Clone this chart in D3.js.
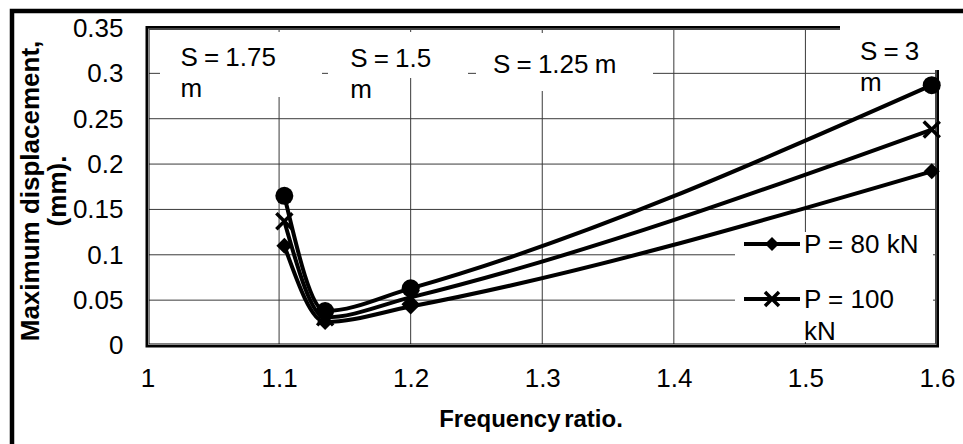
<!DOCTYPE html>
<html>
<head>
<meta charset="utf-8">
<script src="https://cdn.jsdelivr.net/npm/d3@7"></script>
<style>
  body { margin: 0; background: #fff; }
  text { font-family: "Liberation Sans", Arial, sans-serif; fill: #000; }
</style>
</head>
<body>
<div id="chart"></div>
<script>
// data
const freqRatio = [1.104, 1.135, 1.2, 1.596]
const p120 = [0.165, 0.038, 0.063, 0.287]   // circles (no legend entry visible)
const p100 = [0.137, 0.031, 0.053, 0.238]   // crosses
const p80 = [0.110, 0.026, 0.043, 0.192]    // diamonds
const xTicks = [1, 1.1, 1.2, 1.3, 1.4, 1.5, 1.6]
const yTicks = [0, 0.05, 0.1, 0.15, 0.2, 0.25, 0.3, 0.35]
const spacingLabels = [
  {lines: ["S = 1.75", "m"], x: 1.025, y: 0.308},
  {lines: ["S = 1.5", "m"], x: 1.154, y: 0.307},
  {lines: ["S = 1.25 m"], x: 1.2625, y: 0.300},
  {lines: ["S = 3", "m"], x: 1.5414, y: 0.315}
]
const legendItems = [
  {label: ["P = 80 kN"], symbol: "diamond"},
  {label: ["P = 100", "kN"], symbol: "cross"}
]

const width = 963
const height = 444
const fontSize = "26px"

const svg = d3.select("#chart")
  .append("svg")
  .attr("width", width)
  .attr("height", height)

// scales
const xScale = d3.scaleLinear()
  .domain([1, 1.6])
  .range([147.5, 937])

const yScale = d3.scaleLinear()
  .domain([0, 0.35])
  .range([345.5, 28])

// outer frame (only top and left show)
svg.append("path")
  .attr("d", `M12,${height} V11 H${width}`)
  .attr("fill", "none")
  .attr("stroke", "#000")
  .attr("stroke-width", 4.5)

// gridlines
svg.append("g")
  .selectAll("line")
  .data(yTicks.slice(1, -1))
  .join("line")
  .attr("x1", xScale(1))
  .attr("x2", xScale(1.6))
  .attr("y1", d => yScale(d))
  .attr("y2", d => yScale(d))
  .attr("stroke", "#3a3a3a")
  .attr("stroke-width", 1)

svg.append("g")
  .selectAll("line")
  .data(xTicks.slice(1, -1))
  .join("line")
  .attr("x1", d => xScale(d))
  .attr("x2", d => xScale(d))
  .attr("y1", yScale(0.35))
  .attr("y2", yScale(0))
  .attr("stroke", "#3a3a3a")
  .attr("stroke-width", 1)

// plot frame, double line look
svg.append("rect")
  .attr("x", xScale(1))
  .attr("y", yScale(0.35))
  .attr("width", xScale(1.6) - xScale(1))
  .attr("height", yScale(0) - yScale(0.35))
  .attr("fill", "none")
  .attr("stroke", "#000")
  .attr("stroke-width", 4)
svg.append("rect")
  .attr("x", xScale(1) + 1)
  .attr("y", yScale(0.35) + 1)
  .attr("width", xScale(1.6) - xScale(1) - 2)
  .attr("height", yScale(0) - yScale(0.35) - 2)
  .attr("fill", "none")
  .attr("stroke", "#888")
  .attr("stroke-width", 1)

// axes (labels only)
const xAxis = d3.axisBottom(xScale)
  .tickValues(xTicks)
  .tickSize(0)
  .tickPadding(23)
  .tickFormat(d3.format("~g"))

const yAxis = d3.axisLeft(yScale)
  .tickValues(yTicks)
  .tickSize(0)
  .tickPadding(24)
  .tickFormat(d3.format("~g"))

svg.append("g")
  .attr("transform", `translate(0, ${yScale(0)})`)
  .call(xAxis)
  .call(g => g.select(".domain").remove())
  .selectAll("text")
  .attr("font-size", fontSize)
  .attr("font-family", "Liberation Sans, Arial, sans-serif")

svg.append("g")
  .attr("transform", `translate(${xScale(1)}, 0)`)
  .call(yAxis)
  .call(g => g.select(".domain").remove())
  .selectAll("text")
  .attr("font-size", fontSize)
  .attr("font-family", "Liberation Sans, Arial, sans-serif")

// axis titles
svg.append("text")
  .attr("x", 531)
  .attr("y", 427)
  .attr("text-anchor", "middle")
  .attr("font-size", "24px")
  .attr("font-weight", "bold")
  .attr("word-spacing", "-3px")
  .text("Frequency ratio.")

const yTitle = svg.append("text")
  .attr("transform", "translate(0, 191) rotate(-90)")
  .attr("text-anchor", "middle")
  .attr("font-size", "26px")
  .attr("font-weight", "bold")
yTitle.append("tspan").attr("x", 0).attr("y", 39).text("Maximum displacement,")
yTitle.append("tspan").attr("x", 0).attr("y", 66).text("(mm).")

// series lines and markers
const seriesList = [
  {values: p120, symbol: "circle"},
  {values: p100, symbol: "cross"},
  {values: p80, symbol: "diamond"}
]

const lineGenerator = d3.line()
  .x((d, i) => xScale(freqRatio[i]))
  .y(d => yScale(d))
  .curve(d3.curveMonotoneX)

function drawMarker(g, symbol, size) {
  if (symbol === "circle") {
    g.append("circle").attr("r", size).attr("fill", "#000")
  } else if (symbol === "diamond") {
    g.append("path")
      .attr("d", `M0,${-size} L${size},0 L0,${size} L${-size},0 Z`)
      .attr("fill", "#000")
  } else {
    g.append("path")
      .attr("d", `M${-size},${-size} L${size},${size} M${-size},${size} L${size},${-size}`)
      .attr("stroke", "#000")
      .attr("stroke-width", 3.5)
  }
}

seriesList.forEach(s => {
  svg.append("path")
    .datum(s.values)
    .attr("d", lineGenerator)
    .attr("fill", "none")
    .attr("stroke", "#000")
    .attr("stroke-width", 4)

  s.values.forEach((v, i) => {
    const g = svg.append("g")
      .attr("transform", `translate(${xScale(freqRatio[i])}, ${yScale(v)})`)
    drawMarker(g, s.symbol, s.symbol === "circle" ? 9 : 8)
  })
})

// spacing labels on white boxes
const labelBoxes = [
  {x: 160, y: 32, w: 162, h: 65},
  {x: 328, y: 32, w: 140, h: 46},
  {x: 476, y: 33, w: 177, h: 58},
  {x: 840, y: 16, w: 110, h: 54}
]
labelBoxes.forEach(b => {
  svg.append("rect")
    .attr("x", b.x).attr("y", b.y)
    .attr("width", b.w).attr("height", b.h)
    .attr("fill", "#fff")
})

spacingLabels.forEach(lab => {
  const t = svg.append("text")
    .attr("font-size", fontSize)
    .attr("word-spacing", "-1px")
  lab.lines.forEach((line, i) => {
    t.append("tspan")
      .attr("x", xScale(lab.x))
      .attr("y", yScale(lab.y) + i * 31)
      .text(line)
  })
})

// legend
svg.append("rect")
  .attr("x", 735).attr("y", 232)
  .attr("width", 198).attr("height", 110)
  .attr("fill", "#fff")

legendItems.forEach((item, i) => {
  const y = 244 + i * 55
  svg.append("line")
    .attr("x1", 744).attr("x2", 800)
    .attr("y1", y).attr("y2", y)
    .attr("stroke", "#000")
    .attr("stroke-width", 4)
  const g = svg.append("g").attr("transform", `translate(772, ${y})`)
  drawMarker(g, item.symbol, 7)
  const t = svg.append("text").attr("font-size", fontSize)
  item.label.forEach((line, j) => {
    t.append("tspan")
      .attr("x", 804)
      .attr("y", y + 9 + j * 32)
      .text(line)
  })
})
</script>
</body>
</html>
